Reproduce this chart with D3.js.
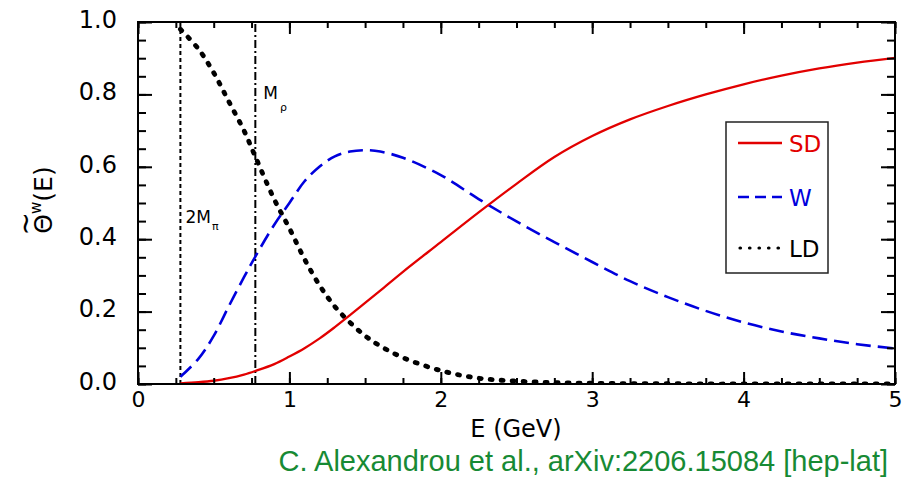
<!DOCTYPE html>
<html>
<head>
<meta charset="utf-8">
<script src="https://cdn.jsdelivr.net/npm/d3@7"></script>
<style>
  body { margin: 0; background: #fff; }
  svg { display: block; font-family: "DejaVu Sans", sans-serif; }
</style>
</head>
<body>
<div id="chart"></div>
<script>

var energy = [0.28, 0.4, 0.5, 0.6, 0.7, 0.775, 0.9, 1.0, 1.1, 1.2, 1.3, 1.4, 1.5, 1.6, 1.75,
              2.0, 2.25, 2.5, 2.75, 3.0, 3.25, 3.5, 3.75, 4.0, 4.25, 4.5, 4.75, 5.0];

var sdValues = [0.002, 0.005, 0.009, 0.016, 0.026, 0.036, 0.055, 0.076, 0.099, 0.126, 0.157, 0.190, 0.224, 0.258, 0.310,
                0.392, 0.474, 0.553, 0.627, 0.685, 0.731, 0.768, 0.800, 0.828, 0.852, 0.872, 0.888, 0.901];

var wValues = [0.020, 0.070, 0.133, 0.215, 0.295, 0.352, 0.440, 0.500, 0.560, 0.601, 0.629, 0.642, 0.646, 0.642, 0.625,
               0.577, 0.511, 0.449, 0.392, 0.337, 0.284, 0.240, 0.202, 0.170, 0.145, 0.126, 0.110, 0.098];

var ldValues = [0.980, 0.925, 0.860, 0.780, 0.700, 0.628, 0.510, 0.430, 0.345, 0.272, 0.214, 0.170, 0.133, 0.105, 0.073,
                0.037, 0.016, 0.008, 0.004, 0.002, 0.001, 0.001, 0.000, 0.000, 0.000, 0.000, 0.000, 0.000];

var seriesNames = ["SD", "W", "LD"];
var xTickLabels = [0, 1, 2, 3, 4, 5];
var yTickLabels = [0, 0.2, 0.4, 0.6, 0.8, 1.0];

// thresholds marked with vertical lines
var twoMpi = 0.28;
var mRho = 0.775;

var W = 910, H = 478;
var margin = {top: 22, right: 15, bottom: 94, left: 138};

var svg = d3.select("#chart").append("svg")
    .attr("width", W)
    .attr("height", H);

var x = d3.scaleLinear().domain([0, 5]).range([margin.left, W - margin.right]);
var y = d3.scaleLinear().domain([0, 1]).range([H - margin.bottom, margin.top]);

var styles = {
    SD: {color: "#e20000", width: 2.3, dash: null, cap: "butt"},
    W:  {color: "#0000dd", width: 2.6, dash: "15,7", cap: "butt"},
    LD: {color: "#000000", width: 4.8, dash: "2,9", cap: "round"}
};

var values = {SD: sdValues, W: wValues, LD: ldValues};

svg.append("clipPath").attr("id", "plot-clip")
    .append("rect")
    .attr("x", x(0)).attr("y", y(1))
    .attr("width", x(5) - x(0)).attr("height", y(0) - y(1));

/* vertical threshold lines */
svg.append("line")
    .attr("x1", x(twoMpi)).attr("x2", x(twoMpi))
    .attr("y1", y(0)).attr("y2", y(1))
    .attr("stroke", "#000").attr("stroke-width", 2)
    .attr("stroke-dasharray", "4,3");

svg.append("line")
    .attr("x1", x(mRho)).attr("x2", x(mRho))
    .attr("y1", y(0)).attr("y2", y(1))
    .attr("stroke", "#000").attr("stroke-width", 2)
    .attr("stroke-dasharray", "8,3,2,3");

/* curves */
var line = d3.line()
    .x(function(d) { return x(d[0]); })
    .y(function(d) { return y(d[1]); })
    .curve(d3.curveCatmullRom.alpha(0.5));

// LD first so the other curves sit on top of its dots
["LD", "W", "SD"].forEach(function(name) {
    var pts = energy.map(function(e, i) { return [e, values[name][i]]; });
    var s = styles[name];
    svg.append("path")
        .datum(pts)
        .attr("clip-path", "url(#plot-clip)")
        .attr("fill", "none")
        .attr("stroke", s.color)
        .attr("stroke-width", s.width)
        .attr("stroke-dasharray", s.dash)
        .attr("stroke-linecap", s.cap)
        .attr("d", line);
});

/* axes: inward ticks on all four sides */
function minorTicks(lo, hi, step) {
    return d3.range(lo, hi + step / 2, step);
}

var xMinor = minorTicks(0, 5, 0.25);
var yMinor = minorTicks(0, 1, 0.05);

function tickAxis(axisFn, scale, vals, size, pos, fmt) {
    var ax = axisFn(scale).tickValues(vals).tickSize(-size).tickPadding(8)
        .tickFormat(fmt || "");
    var g = svg.append("g").attr("transform", pos).call(ax);
    g.select(".domain").remove();
    g.selectAll(".tick line").attr("stroke", "#000").attr("stroke-width", 2);
    return g;
}

tickAxis(d3.axisBottom, x, xMinor, 6, "translate(0," + y(0) + ")");
tickAxis(d3.axisTop, x, xMinor, 6, "translate(0," + y(1) + ")");
tickAxis(d3.axisTop, x, xTickLabels, 12, "translate(0," + y(1) + ")");
var xAxis = tickAxis(d3.axisBottom, x, xTickLabels, 12, "translate(0," + y(0) + ")", d3.format("d"));
xAxis.selectAll("text")
    .attr("font-size", 22)
    .attr("font-family", "DejaVu Sans")
    .attr("fill", "#000")
    .attr("dy", "0.7em");

tickAxis(d3.axisLeft, y, yMinor, 8, "translate(" + x(0) + ",0)");
tickAxis(d3.axisRight, y, yMinor, 8, "translate(" + x(5) + ",0)");
tickAxis(d3.axisRight, y, yTickLabels, 14, "translate(" + x(5) + ",0)");
var yAxis = tickAxis(d3.axisLeft, y, yTickLabels, 14, "translate(" + x(0) + ",0)", d3.format(".1f"));
yAxis.selectAll("text")
    .attr("font-size", 24)
    .attr("font-family", "DejaVu Sans")
    .attr("fill", "#000")
    .attr("x", -21)
    .attr("dy", "0.22em");

/* frame */
svg.append("rect")
    .attr("x", x(0)).attr("y", y(1))
    .attr("width", x(5) - x(0)).attr("height", y(0) - y(1))
    .attr("fill", "none")
    .attr("stroke", "#000")
    .attr("stroke-width", 2);

/* axis titles */
svg.append("text")
    .attr("x", 516).attr("y", 437)
    .attr("text-anchor", "middle")
    .attr("font-size", 24)
    .text("E (GeV)");

var yTitle = svg.append("g").attr("transform", "translate(52,200) rotate(-90)");
var yText = yTitle.append("text")
    .attr("text-anchor", "middle")
    .attr("font-size", 25);
yText.append("tspan").text("Θ");
yText.append("tspan").attr("font-size", 15).attr("dy", -11).text("w");
yText.append("tspan").attr("dy", 11).text("(E)");

// tilde over the theta
var thetaBox = yText.node().getExtentOfChar(0);
yTitle.append("text")
    .attr("x", thetaBox.x + thetaBox.width / 2)
    .attr("y", thetaBox.y + 6)
    .attr("text-anchor", "middle")
    .attr("font-size", 28)
    .text("~");

/* threshold labels */
var mRhoLabel = svg.append("text")
    .attr("x", x(mRho) + 8).attr("y", 99)
    .attr("font-size", 17);
mRhoLabel.append("tspan").text("M");
mRhoLabel.append("tspan").attr("font-size", 11).attr("dx", 2).attr("dy", 12).text("ρ");

var mPiLabel = svg.append("text")
    .attr("x", x(twoMpi) + 5).attr("y", 223)
    .attr("font-size", 17);
mPiLabel.append("tspan").text("2M");
mPiLabel.append("tspan").attr("font-size", 11).attr("dx", 1).attr("dy", 7).text("π");

/* legend */
var legend = svg.append("g");
legend.append("rect")
    .attr("x", 726).attr("y", 122)
    .attr("width", 102).attr("height", 151)
    .attr("fill", "#fff")
    .attr("stroke", "#222")
    .attr("stroke-width", 1.5);

var legendY = {SD: 143, W: 197, LD: 248};
seriesNames.forEach(function(name) {
    var s = styles[name];
    legend.append("line")
        .attr("x1", name === "LD" ? 740 : 738).attr("x2", 782)
        .attr("y1", legendY[name]).attr("y2", legendY[name])
        .attr("stroke", s.color)
        .attr("stroke-width", name === "LD" ? 3.2 : s.width)
        .attr("stroke-dasharray", name === "LD" ? "0.5,9" : (name === "W" ? "11,6" : null))
        .attr("stroke-linecap", s.cap);
    legend.append("text")
        .attr("x", 789).attr("y", legendY[name] + 9)
        .attr("font-size", 23)
        .attr("fill", name === "LD" ? "#000" : s.color)
        .text(name);
});

/* citation */
svg.append("text")
    .attr("x", 888).attr("y", 471)
    .attr("text-anchor", "end")
    .attr("font-family", "Liberation Sans, Arial, sans-serif")
    .attr("font-size", 29)
    .attr("fill", "#178a34")
    .text("C. Alexandrou et al., arXiv:2206.15084 [hep-lat]");

</script>
</body>
</html>
